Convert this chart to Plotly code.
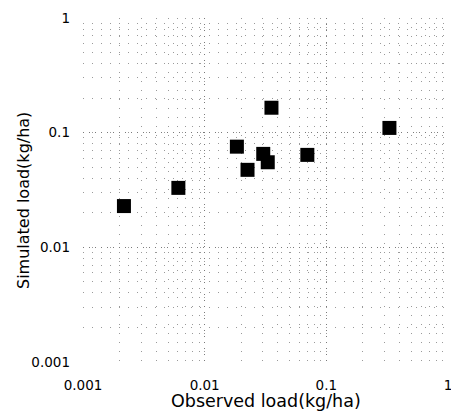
import plotly.graph_objects as go

observed = [0.00217, 0.00608, 0.0184, 0.0225, 0.0303, 0.0330, 0.0354, 0.0698, 0.330]
simulated = [0.0229, 0.0330, 0.0755, 0.0474, 0.0653, 0.0552, 0.165, 0.0640, 0.110]

tick_vals = [0.001, 0.01, 0.1, 1]
tick_text = ["0.001", "0.01", "0.1", "1"]
x_title = "Observed load(kg/ha)"
y_title = "Simulated load(kg/ha)"

FONT = "DejaVu Sans, Verdana, sans-serif"

fig = go.Figure()
fig.add_trace(go.Scatter(
    x=observed, y=simulated, mode="markers",
    marker=dict(symbol="square", size=14, color="black"),
    showlegend=False,
))

axis_common = dict(
    type="log",
    range=[-3, 0],
    tickvals=tick_vals,
    ticktext=tick_text,
    showgrid=True,
    gridcolor="#7a7a7a",
    griddash="1px,5px",
    gridwidth=1,
    showline=False,
    zeroline=False,
    ticks="",
    ticklabeloverflow="allow",
    tickfont=dict(family=FONT, size=13.5, color="black"),
    minor=dict(showgrid=True, gridcolor="#9a9a9a", griddash="1px,8px", gridwidth=1,
               dtick="D1"),
    automargin=False,
)

fig.update_layout(
    width=451, height=412,
    margin=dict(l=83, r=3, t=18, b=50),
    paper_bgcolor="white", plot_bgcolor="white",
    font=dict(family=FONT, color="black"),
    xaxis=dict(**axis_common, ticklabelstandoff=13),
    yaxis=dict(**axis_common, ticklabelstandoff=12),
    annotations=[
        dict(text=x_title, xref="paper", yref="paper", x=0.5, y=0,
             xanchor="center", yanchor="middle", yshift=-39, showarrow=False,
             font=dict(family=FONT, size=17.5, color="black")),
        dict(text=y_title, xref="paper", yref="paper", x=0, y=0.468,
             xanchor="center", yanchor="middle", xshift=-60, textangle=-90,
             showarrow=False, font=dict(family=FONT, size=16, color="black")),
    ],
)

fig.write_html("out.html", post_script="document.body.style.margin='0';",
               config={"displayModeBar": False})
